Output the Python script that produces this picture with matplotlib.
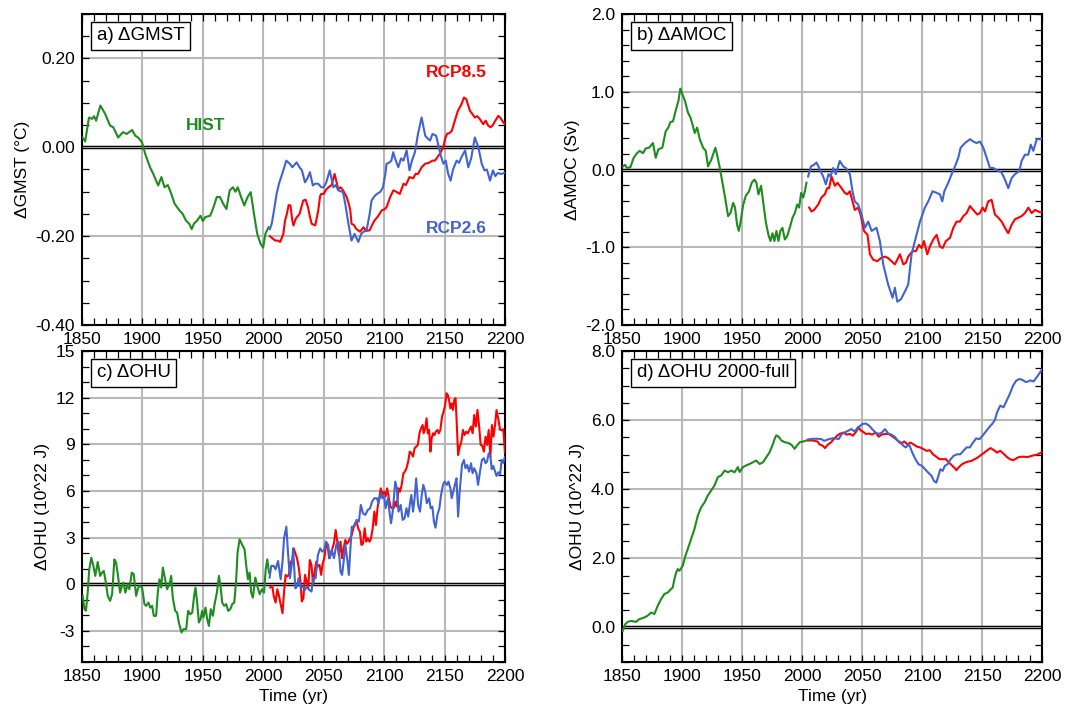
import matplotlib
matplotlib.use('Agg')
import matplotlib.pyplot as plt
from matplotlib.ticker import MultipleLocator, FixedLocator, FormatStrFormatter

plt.rcParams['font.family'] = ['Liberation Sans', 'DejaVu Sans']
plt.rcParams['axes.unicode_minus'] = False

# ---------------- data ----------------
x_ticks = [1850, 1900, 1950, 2000, 2050, 2100, 2150, 2200]

# a) GMST
gmst_hist_yr = [
    1850.5, 1852.6, 1855.8, 1858.4, 1860.0, 1861.7, 1865.2, 1869.2, 1873.2, 1875.9,
    1879.9, 1883.9, 1887.0, 1891.4, 1894.1, 1896.8, 1899.7, 1902.3, 1906.3, 1909.0,
    1913.0, 1915.7, 1918.3, 1921.0, 1923.9, 1926.6, 1930.6, 1933.3, 1936.0, 1938.7,
    1940.8, 1942.6, 1945.3, 1948.0, 1950.0, 1952.1, 1956.1, 1958.8, 1961.5, 1964.2,
    1966.8, 1969.5, 1972.2, 1974.9, 1977.0, 1978.9, 1981.6, 1984.3, 1987.0, 1989.6,
    1992.3, 1995.0, 1997.7, 1999.9, 2001.7, 2004.4]
gmst_hist = [
    0.022, 0.013, 0.067, 0.064, 0.070, 0.060, 0.094, 0.075, 0.049, 0.045,
    0.022, 0.034, 0.030, 0.039, 0.026, 0.021, 0.011, -0.015, -0.045, -0.060,
    -0.086, -0.067, -0.090, -0.085, -0.105, -0.127, -0.142, -0.150, -0.165, -0.172,
    -0.184, -0.172, -0.165, -0.154, -0.166, -0.157, -0.154, -0.135, -0.112, -0.112,
    -0.127, -0.139, -0.097, -0.090, -0.100, -0.090, -0.112, -0.131, -0.112, -0.101,
    -0.150, -0.195, -0.217, -0.226, -0.195, -0.180]
gmst_r26_yr = [
    2005.5, 2007, 2009, 2011, 2013, 2016.6, 2019, 2022, 2024, 2027.6,
    2030, 2032, 2034.5, 2036.5, 2038.6, 2041, 2043, 2045.5, 2048, 2050,
    2052, 2055, 2058, 2060, 2062, 2066, 2068, 2070, 2073, 2075.5,
    2078.6, 2081, 2083, 2085.5, 2088, 2089.6, 2092, 2094, 2097, 2099,
    2101, 2102, 2104, 2106, 2107.5, 2109, 2111.7, 2114, 2116, 2118.6,
    2121, 2123, 2125.5, 2128, 2131, 2134, 2136, 2138, 2140, 2143,
    2145.6, 2147, 2149, 2151, 2153, 2155, 2157, 2160, 2162, 2164,
    2167, 2169.6, 2172, 2175, 2178, 2180.7, 2183, 2185, 2187.6, 2190,
    2192, 2194, 2197, 2200]
gmst_r26 = [
    -0.184, -0.172, -0.140, -0.105, -0.082, -0.052, -0.030, -0.037, -0.045, -0.034,
    -0.045, -0.052, -0.079, -0.070, -0.056, -0.086, -0.082, -0.082, -0.090, -0.090,
    -0.080, -0.052, -0.090, -0.085, -0.097, -0.101, -0.130, -0.165, -0.210, -0.195,
    -0.213, -0.195, -0.190, -0.187, -0.150, -0.120, -0.110, -0.105, -0.100, -0.090,
    -0.060, -0.037, -0.035, -0.030, -0.011, -0.025, -0.045, -0.025, -0.030, -0.007,
    -0.052, -0.030, -0.011, 0.030, 0.067, 0.026, 0.020, 0.015, 0.030, 0.026,
    -0.004, -0.020, -0.037, -0.030, -0.060, -0.075, -0.050, -0.030, -0.035, -0.022,
    -0.007, -0.045, -0.025, 0.022, 0.000, -0.037, -0.052, -0.050, -0.075, -0.052,
    -0.065, -0.058, -0.060, -0.057]
gmst_r85_yr = [
    2005.5, 2008, 2010, 2012, 2014, 2016.6, 2018, 2019.5, 2021, 2022.5,
    2024, 2025, 2027, 2030, 2033, 2035, 2037, 2038.5, 2040, 2043,
    2045.5, 2047, 2048, 2050, 2052, 2054, 2056.5, 2059, 2062, 2064,
    2066, 2069, 2071, 2072, 2073, 2075, 2077, 2080, 2083, 2085,
    2088, 2090, 2092, 2095, 2098, 2100, 2102, 2105, 2107.6, 2110,
    2113, 2116, 2118, 2121, 2124, 2126, 2128, 2131, 2134, 2137,
    2140, 2142, 2146, 2149, 2150.5, 2152, 2154, 2156, 2158.5, 2161,
    2164, 2166, 2168, 2169.5, 2171, 2173, 2175, 2177, 2179, 2182,
    2184, 2186, 2188, 2190, 2192, 2194.5, 2196.5, 2198.6, 2200]
gmst_r85 = [
    -0.200, -0.206, -0.210, -0.210, -0.213, -0.195, -0.165, -0.150, -0.130, -0.131,
    -0.165, -0.176, -0.160, -0.150, -0.120, -0.118, -0.135, -0.155, -0.172, -0.176,
    -0.142, -0.110, -0.105, -0.105, -0.095, -0.090, -0.085, -0.060, -0.094, -0.090,
    -0.097, -0.112, -0.130, -0.142, -0.172, -0.175, -0.184, -0.190, -0.180, -0.188,
    -0.187, -0.175, -0.165, -0.155, -0.142, -0.140, -0.135, -0.112, -0.097, -0.100,
    -0.105, -0.082, -0.085, -0.067, -0.070, -0.060, -0.060, -0.045, -0.037, -0.035,
    -0.030, -0.030, -0.015, 0.000, 0.020, 0.030, 0.032, 0.037, 0.060, 0.082,
    0.097, 0.112, 0.108, 0.095, 0.082, 0.075, 0.067, 0.070, 0.064, 0.052,
    0.060, 0.049, 0.045, 0.050, 0.060, 0.071, 0.065, 0.056, 0.052]

# b) AMOC
amoc_hist_yr = [
    1850.8, 1852.5, 1854.2, 1857.0, 1859.7, 1862.5, 1864.7, 1867.5, 1869.7, 1872.5,
    1875.8, 1878.1, 1880.3, 1883.6, 1886.4, 1888.6, 1890.3, 1892.5, 1895.3, 1897.0,
    1898.6, 1900.3, 1902.5, 1905.0, 1907.0, 1908.7, 1910.6, 1912.6, 1914.8, 1917.6,
    1919.8, 1921.7, 1924.5, 1927.8, 1929.5, 1931.5, 1933.7, 1935.9, 1938.4, 1940.4,
    1942.6, 1944.2, 1945.9, 1947.3, 1948.9, 1950.9, 1953.1, 1955.9, 1958.1, 1960.4,
    1962.0, 1963.7, 1965.9, 1967.6, 1969.8, 1972.0, 1973.7, 1975.4, 1977.0, 1978.7,
    1980.4, 1982.0, 1983.7, 1985.7, 1987.6, 1989.8, 1992.1, 1994.0, 1996.0, 1997.6,
    1999.3, 2001.0, 2002.4, 2003.7]
amoc_hist = [
    0.04, 0.06, 0.02, 0.03, 0.15, 0.21, 0.24, 0.21, 0.27, 0.28,
    0.34, 0.15, 0.26, 0.28, 0.49, 0.54, 0.61, 0.62, 0.79, 0.88,
    1.04, 0.97, 0.88, 0.73, 0.67, 0.58, 0.47, 0.54, 0.39, 0.28,
    0.24, 0.04, 0.13, 0.28, 0.17, 0.02, -0.17, -0.36, -0.60, -0.56,
    -0.43, -0.49, -0.71, -0.79, -0.67, -0.46, -0.34, -0.28, -0.17, -0.13,
    -0.17, -0.32, -0.21, -0.41, -0.67, -0.84, -0.92, -0.82, -0.92, -0.79,
    -0.92, -0.79, -0.75, -0.90, -0.86, -0.75, -0.62, -0.56, -0.45, -0.49,
    -0.30, -0.36, -0.28, -0.17]
amoc_r26_yr = [
    2005.1, 2007.4, 2009.9, 2012.1, 2014.9, 2017.6, 2019.9, 2022.1, 2023.8, 2026.0,
    2028.2, 2031.5, 2034.3, 2036.5, 2039.9, 2042.1, 2044.0, 2046.8, 2049.6, 2052.4,
    2055.2, 2058.0, 2062.1, 2064.9, 2067.7, 2071.8, 2075.5, 2077.4, 2079.4, 2082.4,
    2085.7, 2088.5, 2091.3, 2094.1, 2098.3, 2102.4, 2105.2, 2108.8, 2112.2, 2114.9,
    2116.9, 2118.6, 2121.9, 2124.7, 2127.5, 2130.2, 2132.2, 2135.8, 2140.0, 2142.7,
    2145.5, 2148.3, 2151.1, 2153.9, 2156.6, 2159.4, 2163.6, 2166.4, 2169.1, 2171.9,
    2174.7, 2177.5, 2181.1, 2183.0, 2185.8, 2188.6, 2190.6, 2192.8, 2195.6, 2199.2,
    2200.0]
amoc_r26 = [
    -0.09, 0.04, 0.06, 0.09, 0.00, -0.09, -0.19, -0.06, -0.09, 0.02,
    -0.06, 0.11, 0.04, 0.02, -0.06, -0.28, -0.41, -0.45, -0.58, -0.75,
    -0.67, -0.79, -0.75, -0.92, -1.22, -1.48, -1.65, -1.52, -1.70, -1.67,
    -1.57, -1.48, -1.09, -0.92, -0.67, -0.49, -0.41, -0.28, -0.30, -0.32,
    -0.41, -0.28, -0.17, -0.06, 0.04, 0.15, 0.28, 0.34, 0.39, 0.36,
    0.34, 0.36, 0.28, 0.15, 0.02, 0.02, -0.02, -0.04, -0.13, -0.24,
    -0.11, -0.06, -0.02, 0.11, 0.19, 0.19, 0.32, 0.24, 0.39, 0.39,
    0.40]
amoc_r85_yr = [
    2006.0, 2007.9, 2010.1, 2013.5, 2016.2, 2019.0, 2021.0, 2022.6, 2024.6, 2027.4,
    2029.6, 2032.9, 2035.7, 2037.7, 2039.9, 2042.1, 2044.0, 2046.8, 2048.8, 2051.6,
    2054.6, 2056.6, 2059.3, 2062.7, 2065.7, 2069.1, 2071.8, 2074.6, 2077.4, 2079.4,
    2081.6, 2084.4, 2086.6, 2088.5, 2092.1, 2094.9, 2097.4, 2099.7, 2101.6, 2104.4,
    2106.6, 2109.4, 2112.2, 2114.9, 2117.2, 2119.9, 2123.3, 2126.1, 2128.8, 2131.6,
    2134.4, 2137.2, 2140.0, 2142.7, 2146.1, 2148.3, 2150.5, 2152.5, 2155.2, 2158.0,
    2160.8, 2163.6, 2166.4, 2169.1, 2171.9, 2174.7, 2177.5, 2180.3, 2183.0, 2185.8,
    2188.6, 2191.4, 2194.2, 2198.3, 2200.0]
amoc_r85 = [
    -0.49, -0.54, -0.52, -0.45, -0.36, -0.32, -0.24, -0.24, -0.09, -0.21,
    -0.17, -0.24, -0.30, -0.32, -0.28, -0.41, -0.52, -0.49, -0.58, -0.79,
    -0.84, -1.09, -1.16, -1.18, -1.14, -1.12, -1.14, -1.18, -1.22, -1.16,
    -1.09, -1.22, -1.20, -1.12, -1.05, -1.05, -0.97, -1.01, -0.92, -1.09,
    -0.99, -0.90, -0.84, -0.99, -1.01, -0.92, -0.88, -0.75, -0.67, -0.67,
    -0.60, -0.56, -0.47, -0.52, -0.58, -0.56, -0.49, -0.54, -0.41, -0.39,
    -0.58, -0.62, -0.67, -0.75, -0.82, -0.71, -0.64, -0.62, -0.60, -0.56,
    -0.49, -0.56, -0.52, -0.55, -0.55]

# c) OHU
ohu_hist_yr = [
    1850.6, 1852.0, 1853.3, 1854.7, 1856.0, 1857.7, 1859.4, 1861.0, 1863.0, 1865.0,
    1866.6, 1868.0, 1869.3, 1871.3, 1873.2, 1874.9, 1876.8, 1878.2, 1879.8, 1881.5,
    1883.1, 1884.3, 1885.9, 1887.8, 1889.2, 1891.2, 1892.8, 1894.8, 1896.1, 1897.5,
    1899.7, 1901.7, 1903.0, 1905.0, 1906.4, 1908.0, 1909.4, 1911.3, 1912.7, 1914.1,
    1915.5, 1916.9, 1918.8, 1920.4, 1922.4, 1923.8, 1925.1, 1927.1, 1928.7, 1930.1,
    1932.3, 1934.0, 1936.2, 1937.8, 1939.5, 1941.2, 1942.8, 1943.9, 1945.3, 1946.7,
    1948.1, 1949.4, 1950.5, 1952.2, 1953.6, 1955.0, 1956.6, 1958.3, 1959.7, 1961.6,
    1963.3, 1964.6, 1966.0, 1967.7, 1969.3, 1971.0, 1972.7, 1974.3, 1976.0, 1977.6,
    1978.7, 1980.4, 1982.3, 1984.5, 1985.9, 1987.3, 1988.7, 1990.0, 1991.4, 1993.4,
    1995.0, 1997.0, 1998.9, 2000.6, 2002.0, 2003.3, 2004.7]
ohu_hist = [
    -0.75, -1.60, -1.70, -0.54, 0.96, 1.71, 1.18, 0.54, 1.43, 0.54,
    0.75, 0.86, 0.32, -0.75, -1.07, -0.64, 1.60, 1.39, 0.54, -0.54,
    -0.10, 0.10, -0.54, 0.00, -0.32, 0.75, 0.64, -0.75, -0.32, -0.10,
    -0.21, -1.28, -1.39, -1.18, -1.50, -1.39, -2.03, -2.03, -0.54, 0.32,
    -0.21, 1.07, 0.32, -0.32, 0.00, 0.54, -0.86, -1.71, -1.82, -2.46,
    -3.10, -2.89, -2.89, -1.71, -1.93, -1.82, -0.75, -0.21, -1.18, -2.46,
    -2.25, -1.71, -2.14, -1.50, -2.25, -2.68, -1.60, -2.03, -1.28, -0.54,
    0.54, -0.10, -1.18, -1.39, -1.28, -1.71, -1.60, -1.28, -1.18, 0.32,
    2.03, 2.89, 2.57, 2.25, 1.18, 0.32, 0.75, -0.54, -0.86, 0.43,
    -0.10, -0.64, -0.32, -0.54, 0.96, 1.60, 0.75]
ohu_r26_yr = [
    2005.2, 2006.6, 2008.6, 2010.2, 2012.2, 2014.4, 2015.9, 2017.2, 2019.1, 2020.4,
    2022.0, 2023.9, 2024.7, 2026.5, 2027.9, 2029.2, 2031.1, 2032.8, 2034.5, 2035.9,
    2038.0, 2039.9, 2041.2, 2043.3, 2045.2, 2047.1, 2048.7, 2050.5, 2051.9, 2053.7,
    2055.1, 2056.7, 2058.5, 2060.4, 2062.0, 2063.9, 2065.2, 2066.8, 2067.9, 2069.7,
    2070.8, 2072.1, 2073.2, 2075.3, 2077.2, 2079.1, 2080.7, 2082.5, 2084.4, 2086.5,
    2088.4, 2090.0, 2091.9, 2094.0, 2095.3, 2097.2, 2098.5, 2099.9, 2101.2, 2103.1,
    2104.4, 2105.7, 2107.1, 2109.2, 2110.5, 2111.9, 2113.7, 2115.3, 2116.9, 2118.5,
    2119.9, 2121.2, 2122.5, 2123.9, 2125.2, 2126.5, 2128.1, 2129.7, 2131.1, 2132.4,
    2134.0, 2135.3, 2137.2, 2138.5, 2139.9, 2141.2, 2142.5, 2144.1, 2145.7, 2147.1,
    2148.7, 2150.0, 2151.9, 2153.2, 2154.8, 2155.9, 2157.2, 2158.5, 2159.9, 2161.2,
    2162.5, 2164.4, 2166.0, 2167.3, 2168.7, 2170.3, 2171.9, 2173.2, 2174.5, 2176.4,
    2177.7, 2179.3, 2180.9, 2182.5, 2183.9, 2185.2, 2186.5, 2188.0, 2189.0, 2190.3,
    2193.0, 2194.5, 2196.0, 2197.2, 2198.6, 2200.0]
ohu_r26 = [
    0.43, 1.18, 1.18, 0.96, 1.50, 0.32, 1.46, 2.96, 3.70, 2.10,
    0.39, 1.46, 2.31, -0.26, -0.15, 0.39, -0.26, -0.15, -0.36, -0.15,
    -0.36, -0.47, 0.39, 0.39, 1.89, 2.31, 2.10, 2.21, 2.74, 2.53,
    1.67, 2.21, 1.67, 2.53, 2.74, 0.81, 0.60, 1.67, 2.53, 1.46,
    0.60, 2.31, 3.70, 3.70, 4.14, 4.03, 5.10, 4.56, 4.46, 4.78,
    4.89, 5.31, 5.53, 5.53, 5.21, 5.85, 5.53, 5.74, 4.89, 5.53,
    4.67, 3.92, 4.67, 6.60, 6.17, 4.67, 5.10, 4.14, 4.24, 4.89,
    4.35, 5.10, 5.74, 4.67, 5.53, 6.81, 5.10, 4.67, 5.74, 6.39,
    5.96, 5.21, 5.53, 4.89, 4.99, 4.03, 3.64, 4.46, 4.89, 5.74,
    6.39, 6.60, 6.39, 6.60, 6.17, 5.53, 5.96, 6.39, 6.81, 4.35,
    5.96, 7.67, 7.99, 7.46, 7.67, 7.24, 7.78, 7.14, 7.46, 7.14,
    6.39, 7.24, 7.99, 8.10, 7.78, 7.90, 8.42, 8.20, 7.40, 7.60,
    6.96, 7.20, 7.07, 8.00, 7.80, 8.20]
ohu_r85_yr = [
    2005.8, 2007.5, 2008.6, 2010.2, 2011.6, 2013.0, 2014.5, 2015.9, 2017.2, 2018.5,
    2019.8, 2021.2, 2022.5, 2023.9, 2025.2, 2026.5, 2027.9, 2029.2, 2030.5, 2031.9,
    2033.2, 2034.5, 2035.9, 2037.2, 2038.5, 2039.9, 2041.2, 2042.5, 2043.9, 2045.2,
    2046.5, 2047.9, 2049.2, 2050.5, 2051.9, 2053.2, 2054.5, 2055.9, 2057.2, 2058.5,
    2059.9, 2061.2, 2062.5, 2063.9, 2065.2, 2066.5, 2067.9, 2069.2, 2070.5, 2071.9,
    2073.2, 2074.5, 2075.9, 2077.2, 2078.5, 2079.9, 2081.2, 2082.5, 2083.9, 2085.2,
    2086.5, 2087.9, 2089.2, 2090.5, 2091.9, 2093.2, 2094.5, 2095.9, 2097.2, 2098.5,
    2099.9, 2101.2, 2102.5, 2103.9, 2105.2, 2106.5, 2107.9, 2109.2, 2110.5, 2111.9,
    2113.2, 2114.5, 2115.9, 2117.2, 2118.5, 2119.9, 2121.2, 2122.5, 2123.9, 2125.2,
    2126.5, 2127.9, 2129.2, 2130.5, 2131.9, 2132.7, 2134.0, 2135.1, 2136.1, 2137.2,
    2138.3, 2139.3, 2140.4, 2141.6, 2142.8, 2144.1, 2145.2, 2146.5, 2147.9, 2149.2,
    2150.5, 2151.6, 2152.7, 2153.7, 2154.8, 2155.9, 2156.9, 2158.0, 2159.1, 2159.9,
    2161.2, 2162.5, 2163.9, 2165.2, 2166.5, 2167.9, 2169.2, 2170.5, 2171.9, 2173.2,
    2174.5, 2175.9, 2177.2, 2178.5, 2179.9, 2181.2, 2182.5, 2183.9, 2185.2, 2186.5,
    2187.9, 2189.2, 2190.5, 2191.7, 2193.0, 2194.5, 2195.9, 2197.2, 2198.6, 2200.0]
ohu_r85 = [
    -0.21, -0.11, -0.75, -1.18, -0.32, -0.75, -1.33, -1.86, -0.47, 0.60,
    0.50, 0.60, 1.46, 1.40, 2.31, 1.99, 1.67, 1.14, 0.39, -1.11,
    -0.90, 0.60, 0.17, -0.26, 1.56, 1.24, -0.04, 0.81, 1.46, 1.14,
    1.24, 0.60, 1.35, 1.67, 2.53, 2.50, 1.67, 1.99, 2.31, 2.64,
    3.49, 2.74, 1.89, 2.74, 1.67, 2.31, 2.85, 2.60, 2.74, 2.96,
    3.17, 3.60, 3.92, 4.03, 3.60, 3.39, 2.53, 2.60, 3.60, 2.74,
    2.96, 2.74, 2.96, 3.60, 4.67, 3.81, 4.89, 5.53, 6.17, 5.74,
    5.96, 5.64, 6.17, 5.53, 4.99, 4.89, 4.89, 5.31, 4.99, 6.17,
    5.96, 6.39, 7.14, 7.24, 7.46, 7.89, 8.53, 8.42, 8.21, 8.74,
    8.85, 8.96, 9.71, 10.03, 10.24, 9.71, 10.03, 10.67, 9.71, 9.92,
    8.53, 9.39, 9.71, 9.60, 9.81, 9.92, 9.71, 9.92, 10.78, 11.10,
    11.53, 12.28, 12.17, 11.85, 11.31, 11.63, 11.21, 11.85, 11.96, 10.67,
    8.31, 8.85, 9.17, 9.92, 9.60, 9.81, 9.70, 9.92, 10.14, 9.71,
    10.88, 10.14, 11.21, 10.24, 8.96, 8.90, 8.53, 9.49, 8.96, 9.92,
    8.21, 10.24, 9.50, 10.20, 11.20, 10.60, 9.96, 9.90, 9.96, 8.46]

# d) OHU 2000-full
ohuf_hist_yr = [
    1850.6, 1852.8, 1854.7, 1857.5, 1861.7, 1864.5, 1868.7, 1871.4, 1874.2, 1877.0,
    1879.8, 1882.6, 1885.4, 1888.1, 1890.9, 1892.3, 1893.7, 1895.1, 1896.5, 1897.9,
    1900.7, 1902.9, 1904.8, 1907.6, 1910.4, 1913.2, 1916.0, 1918.8, 1921.5, 1924.3,
    1927.1, 1929.9, 1932.7, 1935.5, 1938.3, 1941.0, 1943.8, 1946.6, 1948.0, 1950.8,
    1953.6, 1956.3, 1959.1, 1961.9, 1964.7, 1967.5, 1970.3, 1973.0, 1975.8, 1977.2,
    1978.6, 1980.8, 1982.8, 1985.6, 1988.4, 1991.1, 1993.9, 1995.9, 1998.1, 2000.9,
    2003.7]
ohuf_hist = [
    -0.10, 0.10, 0.16, 0.19, 0.16, 0.24, 0.29, 0.34, 0.43, 0.39,
    0.63, 0.82, 0.97, 1.01, 1.11, 1.16, 1.40, 1.59, 1.69, 1.64,
    1.79, 2.08, 2.27, 2.56, 2.85, 3.24, 3.48, 3.62, 3.82, 3.96,
    4.11, 4.35, 4.40, 4.54, 4.49, 4.54, 4.49, 4.64, 4.50, 4.64,
    4.69, 4.73, 4.78, 4.83, 4.73, 4.78, 4.93, 5.07, 5.31, 5.46,
    5.56, 5.51, 5.41, 5.36, 5.34, 5.29, 5.17, 5.27, 5.36, 5.38,
    5.41]
ohuf_r26_yr = [
    2005.0, 2009.2, 2013.4, 2016.0, 2018.5, 2022.5, 2026.5, 2030.5, 2033.2, 2037.2,
    2041.2, 2043.9, 2046.5, 2048.7, 2050.5, 2053.2, 2055.9, 2058.5, 2061.2, 2063.9,
    2066.5, 2069.2, 2071.9, 2074.5, 2077.2, 2079.9, 2082.5, 2084.4, 2086.5, 2089.2,
    2091.9, 2094.5, 2097.2, 2099.9, 2102.5, 2105.2, 2107.9, 2110.0, 2111.9, 2113.7,
    2115.3, 2117.2, 2119.1, 2121.2, 2123.9, 2126.5, 2129.2, 2131.9, 2134.5, 2137.2,
    2139.9, 2142.5, 2145.2, 2147.9, 2150.5, 2153.2, 2155.9, 2158.5, 2160.7, 2162.5,
    2165.2, 2167.9, 2170.5, 2173.2, 2175.9, 2178.5, 2181.2, 2183.9, 2186.5, 2188.5,
    2190.2, 2193.0, 2195.8, 2198.6, 2200.0]
ohuf_r26 = [
    5.44, 5.46, 5.46, 5.45, 5.40, 5.45, 5.48, 5.45, 5.60, 5.67,
    5.74, 5.67, 5.79, 5.84, 5.89, 5.90, 5.84, 5.74, 5.64, 5.60,
    5.64, 5.74, 5.61, 5.58, 5.52, 5.40, 5.35, 5.26, 5.21, 5.30,
    5.06, 4.87, 4.72, 4.68, 4.58, 4.48, 4.39, 4.24, 4.19, 4.39,
    4.58, 4.53, 4.68, 4.72, 4.87, 4.97, 5.01, 5.01, 5.11, 5.21,
    5.21, 5.35, 5.47, 5.45, 5.55, 5.67, 5.79, 5.89, 6.00, 6.22,
    6.42, 6.37, 6.56, 6.76, 7.00, 7.14, 7.19, 7.16, 7.10, 7.12,
    7.15, 7.12, 7.25, 7.39, 7.46]
ohuf_r85_yr = [
    2005.0, 2009.0, 2013.0, 2014.5, 2017.2, 2019.3, 2021.2, 2023.9, 2026.5, 2029.2,
    2031.9, 2034.5, 2037.2, 2039.9, 2042.5, 2045.2, 2047.1, 2048.7, 2050.5, 2053.2,
    2055.9, 2058.5, 2061.2, 2063.9, 2066.5, 2069.2, 2071.9, 2074.5, 2077.2, 2079.9,
    2082.5, 2085.2, 2087.9, 2090.5, 2093.2, 2095.9, 2098.5, 2101.2, 2103.9, 2106.5,
    2109.2, 2111.9, 2114.5, 2117.2, 2119.9, 2122.5, 2125.2, 2127.3, 2128.7, 2130.5,
    2133.2, 2135.9, 2138.5, 2141.2, 2143.9, 2146.5, 2149.2, 2151.9, 2154.5, 2157.2,
    2159.9, 2162.5, 2165.2, 2167.9, 2170.5, 2173.2, 2175.9, 2177.7, 2179.9, 2182.5,
    2185.2, 2187.4, 2190.0, 2193.0, 2196.0, 2198.6, 2200.0]
ohuf_r85 = [
    5.41, 5.41, 5.38, 5.30, 5.26, 5.19, 5.28, 5.35, 5.45, 5.55,
    5.61, 5.64, 5.58, 5.60, 5.55, 5.67, 5.79, 5.71, 5.67, 5.60,
    5.61, 5.58, 5.64, 5.52, 5.58, 5.60, 5.60, 5.55, 5.48, 5.40,
    5.32, 5.38, 5.30, 5.35, 5.29, 5.23, 5.21, 5.16, 5.11, 5.13,
    5.01, 4.94, 4.87, 4.87, 4.87, 4.77, 4.68, 4.61, 4.55, 4.63,
    4.72, 4.77, 4.80, 4.82, 4.87, 4.92, 4.99, 5.06, 5.13, 5.19,
    5.13, 5.06, 5.11, 5.03, 4.94, 4.87, 4.84, 4.87, 4.92, 4.94,
    4.94, 4.93, 4.95, 4.98, 5.00, 5.05, 5.07]

# ---------------- figure ----------------
GREEN = '#1e8c1e'
RED = '#ff0000'
BLUE = '#4163d2'
GRID = '#b8b8b8'

W, H = 1083, 711
fig = plt.figure(figsize=(W / 100, H / 100), dpi=100)


def add_ax(l, t, r, b):
    return fig.add_axes([l / W, 1 - b / H, (r - l) / W, (b - t) / H])


axa = add_ax(82, 14, 505, 325)
axb = add_ax(622, 14, 1042, 325)
axc = add_ax(82, 351, 505, 662)
axd = add_ax(622, 351, 1042, 662)


def style(ax, ylim, majors, minor, fmt, ylabel, tag, xlabel=False):
    ax.set_xlim(1850, 2200)
    ax.set_ylim(*ylim)
    ax.xaxis.set_major_locator(FixedLocator(x_ticks))
    ax.xaxis.set_minor_locator(MultipleLocator(10))
    ax.yaxis.set_major_locator(FixedLocator(majors))
    ax.yaxis.set_minor_locator(MultipleLocator(minor))
    ax.yaxis.set_major_formatter(FormatStrFormatter(fmt))
    ax.grid(True, which='major', color=GRID, lw=1.5)
    ax.set_axisbelow(True)
    ax.axhline(0, color='black', lw=2.5, zorder=1.5)
    ax.axhline(0, color='#a0a0a0', lw=0.8, zorder=1.6)
    ax.tick_params(which='both', direction='in', top=True, right=True,
                   labelsize=12.5, width=0.9, length=5, pad=5, colors='black')
    for s in ax.spines.values():
        s.set_linewidth(1.5)
    ax.set_ylabel(ylabel, fontsize=12.5)
    if xlabel:
        ax.set_xlabel('Time (yr)', fontsize=12.5, labelpad=4)
    ax.text(0.035, 0.93, tag, transform=ax.transAxes, fontsize=13.5,
            ha='left', va='center', zorder=10,
            bbox=dict(boxstyle='square,pad=0.3', fc='white', ec='black', lw=1.0))


def draw(ax, hy, hv, by, bv, ry, rv):
    ax.plot(hy, hv, color=GREEN, lw=1.5, zorder=3)
    ax.plot(ry, rv, color=RED, lw=1.5, zorder=3)
    ax.plot(by, bv, color=BLUE, lw=1.5, zorder=3)


draw(axa, gmst_hist_yr, gmst_hist, gmst_r26_yr, gmst_r26, gmst_r85_yr, gmst_r85)
draw(axb, amoc_hist_yr, amoc_hist, amoc_r26_yr, amoc_r26, amoc_r85_yr, amoc_r85)
draw(axc, ohu_hist_yr, ohu_hist, ohu_r26_yr, ohu_r26, ohu_r85_yr, ohu_r85)
draw(axd, ohuf_hist_yr, ohuf_hist, ohuf_r26_yr, ohuf_r26, ohuf_r85_yr, ohuf_r85)

style(axa, (-0.4, 0.3), [-0.4, -0.2, 0.0, 0.2], 0.05, '%.2f',
      '\u0394GMST (\u00b0C)', 'a) \u0394GMST')
style(axb, (-2.0, 2.0), [-2.0, -1.0, 0.0, 1.0, 2.0], 0.2, '%.1f',
      '\u0394AMOC (Sv)', 'b) \u0394AMOC')
style(axc, (-5, 15), [-3, 0, 3, 6, 9, 12, 15], 1, '%d',
      '\u0394OHU (10^22 J)', 'c) \u0394OHU', xlabel=True)
style(axd, (-1.0, 8.0), [0.0, 2.0, 4.0, 6.0, 8.0], 0.5, '%.1f',
      '\u0394OHU (10^22 J)', 'd) \u0394OHU 2000-full', xlabel=True)

axa.text(1952, 0.049, 'HIST', color=GREEN, fontsize=12.5, fontweight='bold',
         ha='center', va='center', zorder=1)
axa.text(2160, 0.169, 'RCP8.5', color=RED, fontsize=12.5, fontweight='bold',
         ha='center', va='center')
axa.text(2160, -0.182, 'RCP2.6', color=BLUE, fontsize=12.5, fontweight='bold',
         ha='center', va='center')

fig.savefig('out.png', dpi=100)
